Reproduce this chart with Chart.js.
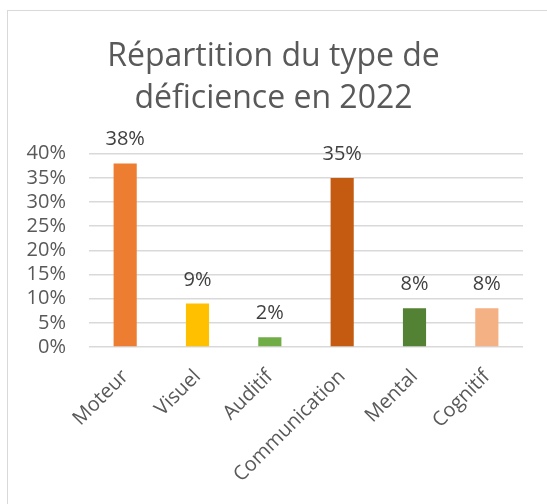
<!DOCTYPE html>
<html>
<head>
<meta charset="utf-8">
<script src="https://cdn.jsdelivr.net/npm/chart.js@4"></script>
<style>
  html, body { margin: 0; padding: 0; background: #fff; overflow: hidden; }
  #wrap { position: relative; width: 547px; height: 504px; overflow: hidden; }
  #frame { position: absolute; left: 7px; top: 10px; width: 700px; height: 700px; border: 1.5px solid #d9d9d9; box-sizing: border-box; pointer-events: none; }
  canvas { position: absolute; left: 0; top: 0; }
</style>
</head>
<body>
<div id="wrap">
  <div id="frame"></div>
  <canvas id="c" width="547" height="504"></canvas>
</div>
<script>
const titleLines = ["Répartition du type de", "déficience en 2022"];
const categories = ["Moteur", "Visuel", "Auditif", "Communication", "Mental", "Cognitif"];
const values = [38, 9, 2, 35, 8, 8];
const barColors = ["#ED7D31", "#FFC000", "#70AD47", "#C55A11", "#548235", "#F4B183"];
const yTicks = [0, 5, 10, 15, 20, 25, 30, 35, 40];

const FONT = "'Open Sans', sans-serif";
const TEXT = "#595959";

const valueLabels = {
  id: "valueLabels",
  afterDatasetsDraw(chart) {
    const ctx = chart.ctx;
    const meta = chart.getDatasetMeta(0);
    ctx.save();
    ctx.font = "20px " + FONT;
    ctx.fillStyle = "#404040";
    ctx.textAlign = "center";
    ctx.textBaseline = "alphabetic";
    meta.data.forEach((bar, i) => {
      ctx.fillText(values[i] + "%", bar.x, bar.y - 18);
    });
    ctx.restore();
  }
};

new Chart(document.getElementById("c"), {
  type: "bar",
  data: {
    labels: categories,
    datasets: [{
      data: values,
      backgroundColor: barColors,
      borderWidth: 0,
      barPercentage: 0.32,
      categoryPercentage: 1.0
    }]
  },
  options: {
    responsive: false,
    animation: false,
    devicePixelRatio: 1,
    layout: { padding: 0 },
    plugins: {
      legend: { display: false },
      tooltip: { enabled: false },
      title: {
        display: true,
        text: titleLines,
        color: TEXT,
        font: { family: FONT, size: 32, weight: "normal", lineHeight: 1.34 },
        padding: { top: 35, bottom: 33 }
      }
    },
    scales: {
      x: {
        grid: { display: false, drawTicks: false },
        border: { display: false },
        ticks: {
          color: TEXT,
          font: { family: FONT, size: 20 },
          minRotation: 45,
          maxRotation: 45,
          padding: 18,
          autoSkip: false
        },
        afterFit(scale) { scale.height = 504 - 347; }
      },
      y: {
        min: 0,
        max: 40,
        afterBuildTicks(scale) { scale.ticks = yTicks.map(v => ({ value: v })); },
        grid: { color: "#d9d9d9", lineWidth: 1.5, drawTicks: false },
        border: { display: false },
        ticks: {
          color: TEXT,
          font: { family: FONT, size: 20 },
          padding: 23,
          autoSkip: false,
          callback: (v) => v + "%"
        },
        afterFit(scale) { scale.width = 89; }
      },
      yRight: {
        position: "right",
        display: true,
        grid: { display: false, drawTicks: false },
        border: { display: false },
        ticks: { display: false },
        afterFit(scale) { scale.width = 24; }
      }
    }
  },
  plugins: [valueLabels]
});
</script>
</body>
</html>
